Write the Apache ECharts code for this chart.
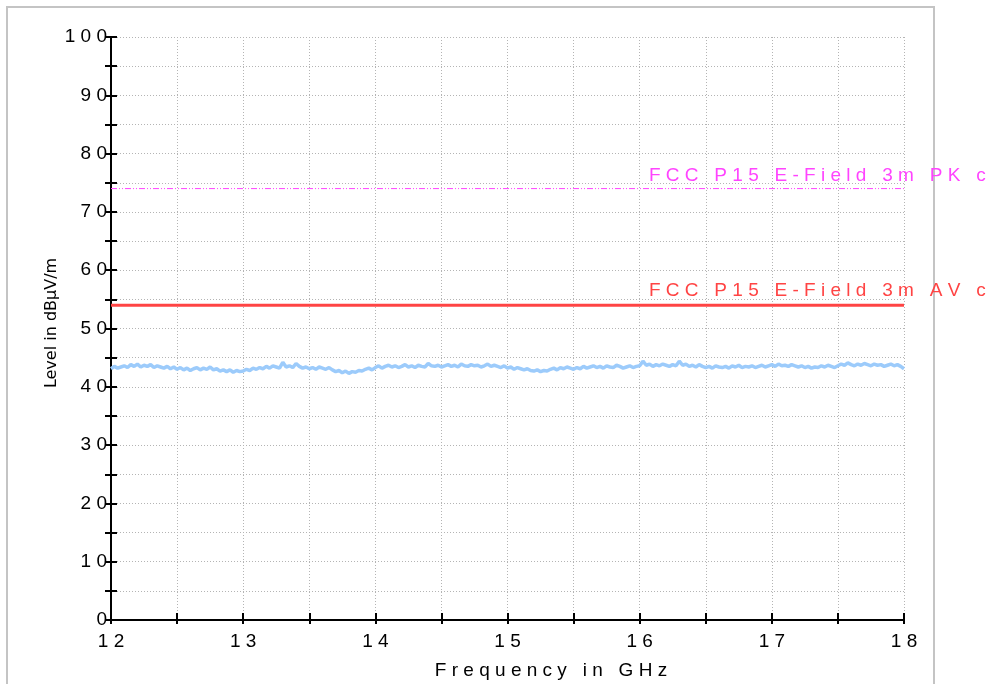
<!DOCTYPE html>
<html>
<head>
<meta charset="utf-8">
<script src="https://cdn.jsdelivr.net/npm/echarts@6/dist/echarts.min.js"></script>
<style>
  html, body { margin: 0; padding: 0; background: #ffffff; }
  #chart { width: 990px; height: 684px; }
</style>
</head>
<body>
<div id="chart"></div>
<script>
// Frequency axis (GHz) and level axis (dBµV/m)
const freqMin = 12;
const freqMax = 18;
const levelMin = 0;
const levelMax = 100;

// Limit lines: FCC Part 15, 3 m, peak and average
const limitFreq = [12, 18];
const limitPK = [74, 74];
const limitAV = [54, 54];
const limitPKName = 'FCC P15 E-Field 3m PK class B';
const limitAVName = 'FCC P15 E-Field 3m AV class B';

// Measured trace, sampled every 25 MHz from 12 GHz
const traceStart = 12;
const traceStep = 0.025;
const traceLevel = [
  43.1, 43.5, 43.2, 43.4, 43.6, 43.3, 43.8, 43.5, 43.9, 43.4, 43.7, 43.5, 43.8, 43.3, 43.6, 43.4, 43.2, 43.5, 43.1, 43.4,
  43.0, 43.3, 42.9, 43.2, 42.8, 43.1, 43.3, 42.9, 43.2, 43.0, 43.4, 42.9, 43.1, 42.7, 42.9, 42.6, 42.9, 42.5, 42.8, 42.6,
  42.7, 43.0, 42.8, 43.2, 43.0, 43.3, 43.1, 43.5, 43.2, 43.6, 43.4, 43.2, 44.2, 43.4, 43.6, 43.3, 44.0, 43.5, 43.2, 43.4,
  43.1, 43.3, 43.0, 43.4, 43.2, 43.0, 43.3, 42.9, 42.6, 42.8, 42.4, 42.7, 42.3, 42.6, 42.5, 42.8, 42.7, 43.0, 43.2, 42.9,
  43.3, 43.6, 43.2, 43.5, 43.7, 43.4, 43.6, 43.3, 43.5, 43.8, 43.4, 43.6, 43.3, 43.7, 43.5, 43.4, 44.0, 43.6, 43.5, 43.7,
  43.4, 43.6, 43.8, 43.5, 43.7, 43.4, 43.9, 43.6, 43.5, 43.8, 43.6, 43.7, 43.4, 43.6, 43.9, 43.5, 43.7, 43.5, 43.3, 43.6,
  43.2, 43.4, 43.0, 43.3, 43.1, 42.9, 43.1, 42.8, 42.7, 42.9, 42.6, 42.8, 42.7, 43.0, 43.2, 42.9, 43.3, 43.1, 43.4, 43.2,
  43.0, 43.3, 43.1, 43.5, 43.2, 43.4, 43.6, 43.3, 43.5, 43.2, 43.6, 43.4, 43.3, 43.7, 43.5, 43.2, 43.4, 43.6, 43.3, 43.5,
  43.6, 44.4, 43.7, 43.9, 43.5, 43.8, 43.6, 43.9, 43.7, 43.5, 43.8, 43.6, 44.4, 43.7, 43.9, 43.5, 43.7, 43.4, 43.8, 43.5,
  43.3, 43.5, 43.2, 43.6, 43.4, 43.3, 43.5, 43.2, 43.6, 43.4, 43.7, 43.3, 43.5, 43.4, 43.6, 43.3, 43.5, 43.7, 43.4, 43.6,
  43.8, 43.5, 43.9, 43.6, 43.7, 43.5, 43.8, 43.6, 43.4, 43.6, 43.3, 43.5, 43.2, 43.4, 43.3, 43.6, 43.4, 43.7, 43.5, 43.3,
  43.6, 43.9, 43.7, 44.1, 43.8, 43.6, 43.9, 43.7, 44.0, 43.8, 43.6, 43.9, 43.7, 43.8, 43.5, 43.7, 43.9, 43.6, 43.8, 43.5,
  43.1
];

const FONT = '"Liberation Sans", Arial, sans-serif';

// Letter-spaced rendering used by the plotting software
function spaced(s) {
  return s.split(' ').map(w => w.split('').join(' ')).join('   ');
}

const traceData = traceLevel.map((v, i) => [+(traceStart + i * traceStep).toFixed(3), v]);
const pkData = limitFreq.map((f, i) => [f, limitPK[i]]);
const avData = limitFreq.map((f, i) => [f, limitAV[i]]);

const gridLine = { show: true, lineStyle: { color: '#b4b4b4', width: 1, type: [1, 2] } };
const axisLine = { show: true, onZero: false, lineStyle: { color: '#000', width: 2 } };

function xAxisDef(inside, main) {
  return {
    type: 'value', min: freqMin, max: freqMax, interval: 0.5,
    position: 'bottom',
    axisLine: axisLine,
    axisTick: { show: true, inside: inside, length: inside ? 7 : 4, lineStyle: { color: '#000', width: 2 } },
    axisLabel: main ? {
      show: true, margin: 12, color: '#000', fontSize: 19, fontFamily: FONT,
      formatter: v => (Math.abs(v - Math.round(v)) < 1e-6 ? spaced(String(Math.round(v))) : '')
    } : { show: false },
    splitLine: main ? gridLine : { show: false }
  };
}

function yAxisDef(inside, main) {
  return {
    type: 'value', min: levelMin, max: levelMax, interval: 5,
    position: 'left',
    axisLine: axisLine,
    axisTick: { show: true, inside: inside, length: 6, lineStyle: { color: '#000', width: 2 } },
    axisLabel: main ? {
      show: true, margin: 4, color: '#000', fontSize: 19, fontFamily: FONT,
      formatter: v => (v % 10 === 0 ? spaced(String(v)) : '')
    } : { show: false },
    splitLine: main ? gridLine : { show: false }
  };
}

const chart = echarts.init(document.getElementById('chart'), null, { renderer: 'canvas' });

chart.setOption({
  animation: false,
  backgroundColor: '#ffffff',
  grid: { left: 111, right: 86, top: 37, bottom: 64, containLabel: false },
  xAxis: [xAxisDef(false, true), xAxisDef(true, false)],
  yAxis: [yAxisDef(false, true), yAxisDef(true, false)],
  series: [
    {
      name: 'Trace', type: 'line', data: traceData, showSymbol: false,
      lineStyle: { color: '#9ccbfb', width: 3.5 }, z: 3
    },
    {
      name: limitAVName, type: 'line', data: avData, showSymbol: false,
      lineStyle: { color: '#ff4444', width: 3 }, z: 4
    },
    {
      name: limitPKName, type: 'line', data: pkData, showSymbol: false,
      lineStyle: { color: '#ff44ff', width: 1, type: [6, 2, 1, 2, 1, 2] }, z: 4
    }
  ]
});

// Limit names placed above their lines, starting near 16 GHz
const pkPos = chart.convertToPixel({ xAxisIndex: 0, yAxisIndex: 0 }, [16.07, limitPK[1]]);
const avPos = chart.convertToPixel({ xAxisIndex: 0, yAxisIndex: 0 }, [16.07, limitAV[1]]);

chart.setOption({
  graphic: [
    {
      type: 'rect', silent: true, z: 0,
      shape: { x: 7, y: 7, width: 927, height: 700 },
      style: { fill: 'none', stroke: '#c4c4c4', lineWidth: 2 }
    },
    {
      type: 'text', silent: true, z: 10,
      x: pkPos[0], y: pkPos[1] - 3,
      style: { text: spaced(limitPKName), fill: '#ff44ff', font: '19px ' + FONT, textAlign: 'left', textVerticalAlign: 'bottom' }
    },
    {
      type: 'text', silent: true, z: 10,
      x: avPos[0], y: avPos[1] - 5,
      style: { text: spaced(limitAVName), fill: '#ff4444', font: '19px ' + FONT, textAlign: 'left', textVerticalAlign: 'bottom' }
    },
    {
      type: 'text', silent: true, z: 10,
      x: 551, y: 671,
      style: { text: spaced('Frequency in GHz'), fill: '#000', font: '19px ' + FONT, textAlign: 'center', textVerticalAlign: 'middle' }
    },
    {
      type: 'text', silent: true, z: 10,
      x: 52, y: 323, rotation: Math.PI / 2,
      style: { text: 'Level in dBµV/m', fill: '#000', font: '16px "DejaVu Sans", sans-serif', textAlign: 'center', textVerticalAlign: 'middle' }
    }
  ]
});
</script>
</body>
</html>
